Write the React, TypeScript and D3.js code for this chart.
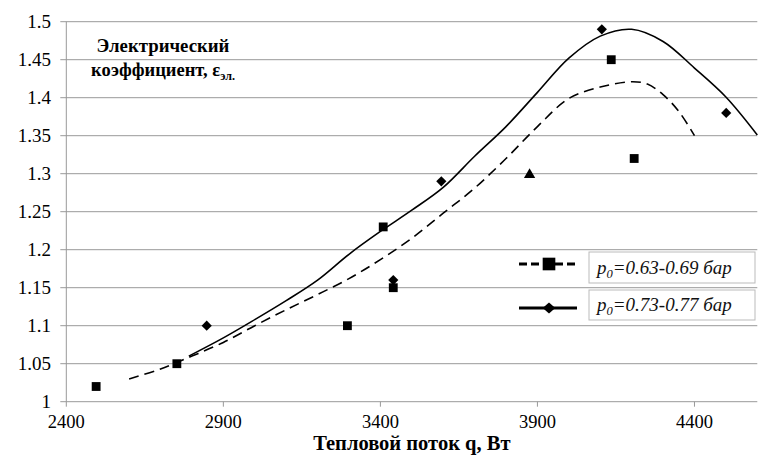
import { scaleLinear, line, curveCatmullRom, symbol, symbolSquare, symbolTriangle } from 'd3';

// measured points, p0 = 0.63-0.69 bar (squares)
const sqQ = [2495, 2752, 3295, 3409, 3441, 4135, 4208];
const sqE = [1.02, 1.05, 1.10, 1.23, 1.15, 1.45, 1.32];

// measured points, p0 = 0.73-0.77 bar (diamonds)
const dmQ = [2847, 3441, 3594, 4105, 4501];
const dmE = [1.10, 1.16, 1.29, 1.49, 1.38];

// single extra point (triangle)
const trQ = [3875];
const trE = [1.30];

// dashed trend curve
const dashQ = [2600, 2700, 2800, 2900, 3000, 3100, 3200, 3300, 3400, 3500, 3600, 3700, 3800, 3900, 4000, 4100, 4200, 4250, 4300, 4350, 4400];
const dashE = [1.030, 1.043, 1.060, 1.078, 1.100, 1.121, 1.141, 1.162, 1.187, 1.215, 1.248, 1.281, 1.320, 1.362, 1.399, 1.414, 1.421, 1.418, 1.404, 1.382, 1.350];

// solid trend curve
const solidQ = [2790, 2900, 3000, 3100, 3200, 3300, 3400, 3500, 3600, 3700, 3800, 3900, 4000, 4100, 4200, 4300, 4400, 4500, 4600];
const solidE = [1.060, 1.084, 1.108, 1.133, 1.160, 1.194, 1.224, 1.252, 1.282, 1.323, 1.362, 1.407, 1.452, 1.481, 1.490, 1.474, 1.439, 1.401, 1.351];

const xTicks = [2400, 2900, 3400, 3900, 4400];
const yTicks = [1, 1.05, 1.1, 1.15, 1.2, 1.25, 1.3, 1.35, 1.4, 1.45, 1.5];

const legendLabels = ['=0.63-0.69 бар', '=0.73-0.77 бар'];
const yTitle = ['Электрический', 'коэффициент, ε'];
const xTitle = 'Тепловой поток q, Вт';

const width = 780;
const height = 456;
const plot = { left: 66.3, right: 757.3, top: 21.7, bottom: 401.7 };
const FONT = 'Liberation Serif';
const grid = '#999';

const x = scaleLinear().domain([2400, 4600]).range([plot.left, plot.right]);
const y = scaleLinear().domain([1, 1.5]).range([plot.bottom, plot.top]);

const zip = (qs: number[], es: number[]) => qs.map((q, i) => [q, es[i]] as [number, number]);

const curve = line<[number, number]>()
  .x(d => x(d[0]))
  .y(d => y(d[1]))
  .curve(curveCatmullRom.alpha(0.5));

const square = symbol(symbolSquare, 78)();
const diamond = symbol(symbolSquare, 52)();
const triangle = symbol(symbolTriangle, 55)();
const bigSquare = symbol(symbolSquare, 160)();
const bigDiamond = symbol(symbolSquare, 80)();

function App() {
  const legendRows = [
    { lineY: 264, boxY: 252, boxH: 31, dash: '8,4', marker: bigSquare, rot: 0, sy: 1 },
    { lineY: 308, boxY: 290, boxH: 30, dash: undefined, marker: bigDiamond, rot: 45, sy: 0.85 },
  ];

  return (
    <svg width={width} height={height} fontFamily={FONT} style={{ display: 'block', margin: '-8px 0 0 -8px' }}>
      <rect x={0} y={0} width={width} height={height} fill='white' />
      <rect x={6} y={7} width={width} height={height} fill='none' stroke='#a0a0a0' />

      {yTicks.map(t => (
        <g key={t}>
          <line x1={plot.left - 6} x2={plot.right} y1={y(t)} y2={y(t)} stroke={grid} />
          <text x={51} y={y(t) + 6.5} textAnchor='end' fontFamily={FONT} fontSize={19}>
            {String(+t.toFixed(2))}
          </text>
        </g>
      ))}
      <line x1={plot.left} x2={plot.left} y1={plot.top} y2={plot.bottom} stroke={grid} />
      {xTicks.map(t => (
        <g key={t}>
          <line x1={x(t)} x2={x(t)} y1={plot.bottom} y2={plot.bottom + 5} stroke={grid} />
          <text x={x(t)} y={428} textAnchor='middle' fontFamily={FONT} fontSize={18.5}>{t}</text>
        </g>
      ))}

      <text x={(plot.left + plot.right) / 2} y={450} textAnchor='middle' fontFamily={FONT} fontSize={20.5} fontWeight='bold'>
        {xTitle}
      </text>
      <text x={163} y={52} textAnchor='middle' fontFamily={FONT} fontSize={18.8} fontWeight='bold'>{yTitle[0]}</text>
      <text x={163} y={76} textAnchor='middle' fontFamily={FONT} fontSize={18.5} fontWeight='bold'>
        {yTitle[1]}
        <tspan fontSize={12} dy={4}>эл.</tspan>
      </text>

      <path d={curve(zip(dashQ, dashE)) ?? ''} fill='none' stroke='black' strokeWidth={1.6} strokeDasharray='10,6' />
      <path d={curve(zip(solidQ, solidE)) ?? ''} fill='none' stroke='black' strokeWidth={1.6} />

      {zip(dmQ, dmE).map((d, i) => (
        <path key={'d' + i} d={diamond} transform={`translate(${x(d[0])},${y(d[1])}) rotate(45)`} fill='black' />
      ))}
      {zip(sqQ, sqE).map((d, i) => (
        <path key={'s' + i} d={square} transform={`translate(${x(d[0])},${y(d[1])})`} fill='black' />
      ))}
      {zip(trQ, trE).map((d, i) => (
        <path key={'t' + i} d={triangle} transform={`translate(${x(d[0])},${y(d[1]) + 1})`} fill='black' />
      ))}

      {legendRows.map((r, i) => (
        <g key={i}>
          <line x1={519} x2={577} y1={r.lineY} y2={r.lineY} stroke='black' strokeWidth={3} strokeDasharray={r.dash} />
          <path d={r.marker} transform={`translate(549,${r.lineY}) scale(1,${r.sy}) rotate(${r.rot})`} fill='black' />
          <rect x={589} y={r.boxY} width={166} height={r.boxH} fill='white' stroke='#bbb' />
          <text x={597} y={r.boxY + r.boxH / 2 + 6} fontFamily={FONT} fontSize={19} fontStyle='italic' fill='#111'>
            p<tspan fontSize={12.5} dy={4}>0</tspan>
            <tspan dy={-4}>{legendLabels[i]}</tspan>
          </text>
        </g>
      ))}
    </svg>
  );
}

export default App;
